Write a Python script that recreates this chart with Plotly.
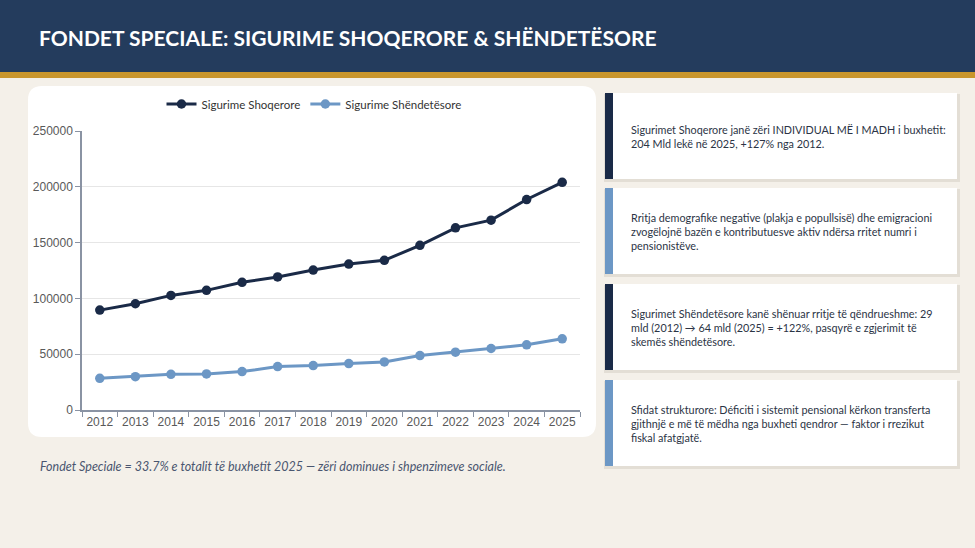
import plotly.graph_objects as go

W, H = 975, 548

# data
years = [str(y) for y in range(2012, 2026)]
shoqerore = [89500, 95200, 102700, 107200, 114400, 119200, 125400,
             130800, 134100, 147600, 163200, 170100, 188600, 204000]
shendetesore = [28400, 29900, 32000, 32300, 34400, 38900, 39800,
                41600, 43100, 48800, 51800, 55100, 58400, 63800]
y_ticks = [0, 50000, 100000, 150000, 200000, 250000]

title = "FONDET SPECIALE: SIGURIME SHOQERORE & SHËNDETËSORE"
footnote = "Fondet Speciale = 33.7% e totalit të buxhetit 2025 — zëri dominues i shpenzimeve sociale."
cards = [
    "Sigurimet Shoqerore janë zëri INDIVIDUAL MË I MADH i buxhetit:<br>204 Mld lekë në 2025, +127% nga 2012.",
    "Rritja demografike negative (plakja e popullsisë) dhe emigracioni<br>zvogëlojnë bazën e kontributuesve aktiv ndërsa rritet numri i<br>pensionistëve.",
    "Sigurimet Shëndetësore kanë shënuar rritje të qëndrueshme: 29<br>mld (2012) → 64 mld (2025) = +122%, pasqyrë e zgjerimit të<br>skemës shëndetësore.",
    "Sfidat strukturore: Déficiti i sistemit pensional kërkon transferta<br>gjithnjë e më të mëdha nga buxheti qendror — faktor i rrezikut<br>fiskal afatgjatë.",
]

NAVY = "#243C5D"
GOLD = "#C9962C"
BG = "#F4F0E9"
DARK = "#1A2A47"
LIGHT = "#6C97C5"


def px(x):
    return x / W


def py(y):
    return 1 - y / H


def rounded_rect(x0, y0, x1, y1, r):
    # path in paper coords, built from pixel corners
    pts = [
        f"M {px(x0 + r)} {py(y0)}",
        f"L {px(x1 - r)} {py(y0)}",
        f"Q {px(x1)} {py(y0)} {px(x1)} {py(y0 + r)}",
        f"L {px(x1)} {py(y1 - r)}",
        f"Q {px(x1)} {py(y1)} {px(x1 - r)} {py(y1)}",
        f"L {px(x0 + r)} {py(y1)}",
        f"Q {px(x0)} {py(y1)} {px(x0)} {py(y1 - r)}",
        f"L {px(x0)} {py(y0 + r)}",
        f"Q {px(x0)} {py(y0)} {px(x0 + r)} {py(y0)}",
        "Z",
    ]
    return " ".join(pts)


shapes = [
    dict(type="rect", xref="paper", yref="paper", x0=0, x1=1, y0=py(72), y1=1,
         fillcolor=NAVY, line_width=0, layer="below"),
    dict(type="rect", xref="paper", yref="paper", x0=0, x1=1, y0=py(78), y1=py(72),
         fillcolor=GOLD, line_width=0, layer="below"),
    dict(type="path", xref="paper", yref="paper", path=rounded_rect(28, 86, 596, 437, 14),
         fillcolor="white", line_width=0, layer="below"),
]

annotations = [
    dict(text=f"<b>{title}</b>", xref="paper", yref="paper", x=px(37), y=py(37),
         xanchor="left", yanchor="middle", showarrow=False,
         font=dict(family="Lato", size=21, color="white")),
    dict(text=f"<i>{footnote}</i>", xref="paper", yref="paper", x=px(38), y=py(466),
         xanchor="left", yanchor="middle", showarrow=False,
         font=dict(family="Lato", size=12.5, color="#4A5670")),
]

card_tops = [93, 188, 284, 380]
card_h = 86
for i, (top, txt) in enumerate(zip(card_tops, cards)):
    bot = top + card_h
    accent = DARK if i % 2 == 0 else LIGHT
    # soft shadow
    shapes.append(dict(type="rect", xref="paper", yref="paper",
                       x0=px(604), x1=px(960), y0=py(bot + 3), y1=py(top + 1),
                       fillcolor="#E3DED5", line_width=0, layer="below"))
    shapes.append(dict(type="rect", xref="paper", yref="paper",
                       x0=px(605), x1=px(957), y0=py(bot), y1=py(top),
                       fillcolor="white", line_width=0, layer="below"))
    shapes.append(dict(type="rect", xref="paper", yref="paper",
                       x0=px(605), x1=px(613), y0=py(bot), y1=py(top),
                       fillcolor=accent, line_width=0, layer="below"))
    annotations.append(dict(text=txt, xref="paper", yref="paper",
                            x=px(629), y=py((top + bot) / 2),
                            xanchor="left", yanchor="middle", align="left",
                            showarrow=False,
                            font=dict(family="Lato", size=10.8, color="#2B3445")))

fig = go.Figure()
fig.add_trace(go.Scatter(x=years, y=shoqerore, mode="lines+markers",
                         name="Sigurime Shoqerore",
                         line=dict(color=DARK, width=3),
                         marker=dict(size=9.5, color=DARK)))
fig.add_trace(go.Scatter(x=years, y=shendetesore, mode="lines+markers",
                         name="Sigurime Shëndetësore",
                         line=dict(color=LIGHT, width=3),
                         marker=dict(size=9.5, color=LIGHT)))

axis_font = dict(family="Liberation Sans", size=12, color="#595959")
fig.update_layout(
    width=W, height=H,
    margin=dict(l=0, r=0, t=0, b=0, pad=0, autoexpand=False),
    paper_bgcolor=BG,
    plot_bgcolor="rgba(0,0,0,0)",
    shapes=shapes,
    annotations=annotations,
    showlegend=True,
    legend=dict(orientation="h", x=px(314), y=py(104), xanchor="center", yanchor="middle",
                font=dict(family="Lato", size=11.5, color="#333333"),
                bgcolor="rgba(0,0,0,0)", itemwidth=30),
    xaxis=dict(domain=[px(82), px(580)], type="category", range=[-0.5, len(years) - 0.5],
               tickson="boundaries",
               ticks="outside", ticklen=5, tickcolor="#8A93A3", tickangle=0,
               showline=True, linecolor="#8A93A3", linewidth=1.5,
               showgrid=False, tickfont=axis_font, fixedrange=True, automargin=False),
    yaxis=dict(domain=[py(410), py(131)], range=[0, 250000], tickvals=y_ticks,
               ticks="outside", ticklen=5, tickcolor="#8A93A3",
               showline=True, linecolor="#8A93A3", linewidth=1.5,
               showgrid=True, gridcolor="#E6E6E6", gridwidth=1,
               zeroline=False, tickfont=axis_font, tickformat="d",
               fixedrange=True, automargin=False),
)

# pin the figure to the top-left corner of the page
pin = ("document.body.style.margin='0';"
       "document.documentElement.style.overflow='hidden';"
       "var d=document.getElementById('{plot_id}');"
       "d.style.position='fixed';d.style.top='0';d.style.left='0';")
fig.write_html("out.html", config={"displayModeBar": False}, post_script=pin)
